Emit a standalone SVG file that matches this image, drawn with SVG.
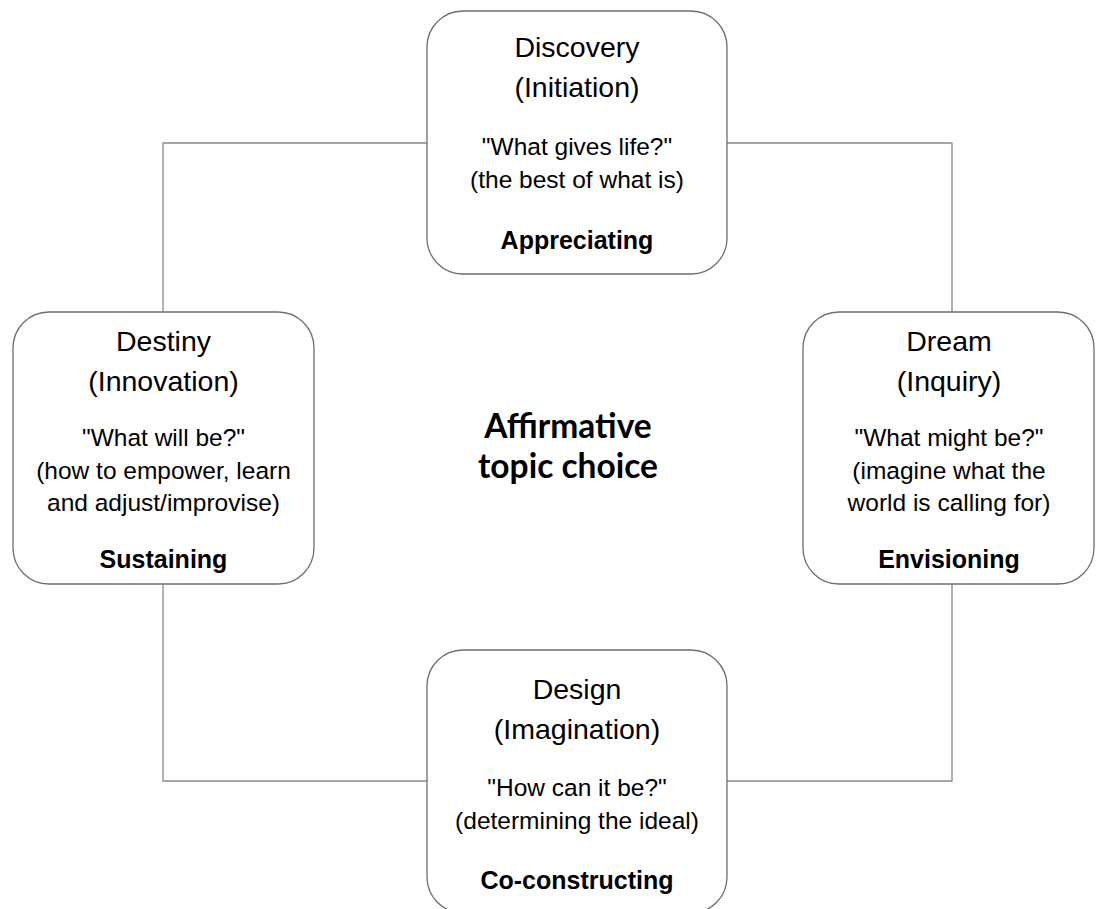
<svg xmlns="http://www.w3.org/2000/svg" width="1096" height="909" viewBox="0 0 1096 909">
<style>
.box{fill:#fff;stroke:#6e6e6e;stroke-width:1.3}
.con{fill:none;stroke:#8a8a8a;stroke-width:1.3}
.t{font-family:"Liberation Sans",Arial,sans-serif;fill:#000;text-anchor:middle}
.h{font-size:28.5px}
.b{font-size:24.5px}
.l{font-size:25px;font-weight:bold}
.c{font-family:Lato,"Open Sans",sans-serif;font-weight:bold;font-size:33.5px;text-anchor:middle;fill:#000}
</style>
<rect width="1096" height="909" fill="#fff"/>
<g id="connectors">
<polyline class="con" points="427,143 163,143 163,312"/>
<polyline class="con" points="727,143 952,143 952,312"/>
<polyline class="con" points="163,584 163,781 427,781"/>
<polyline class="con" points="952,584 952,781 727,781"/>
</g>
<g id="discovery">
<rect class="box" x="427" y="11" width="300" height="263" rx="36"/>
<text class="t h" x="577" y="57">Discovery</text>
<text class="t h" x="577" y="97">(Initiation)</text>
<text class="t b" x="577" y="155">"What gives life?"</text>
<text class="t b" x="577" y="188">(the best of what is)</text>
<text class="t l" x="577" y="249">Appreciating</text>
</g>
<g id="destiny">
<rect class="box" x="13" y="312" width="301" height="272" rx="36"/>
<text class="t h" x="163.5" y="351">Destiny</text>
<text class="t h" x="163.5" y="391">(Innovation)</text>
<text class="t b" x="163.5" y="446">"What will be?"</text>
<text class="t b" x="163.5" y="479">(how to empower, learn</text>
<text class="t b" x="163.5" y="511">and adjust/improvise)</text>
<text class="t l" x="163.5" y="568">Sustaining</text>
</g>
<g id="dream">
<rect class="box" x="803" y="312" width="291" height="272" rx="36"/>
<text class="t h" x="949" y="351">Dream</text>
<text class="t h" x="949" y="391">(Inquiry)</text>
<text class="t b" x="949" y="446">"What might be?"</text>
<text class="t b" x="949" y="479">(imagine what the</text>
<text class="t b" x="949" y="511">world is calling for)</text>
<text class="t l" x="949" y="568">Envisioning</text>
</g>
<g id="design">
<rect class="box" x="427" y="650" width="300" height="263" rx="36"/>
<text class="t h" x="577" y="699">Design</text>
<text class="t h" x="577" y="739">(Imagination)</text>
<text class="t b" x="577" y="796">"How can it be?"</text>
<text class="t b" x="577" y="829">(determining the ideal)</text>
<text class="t l" x="577" y="889">Co-constructing</text>
</g>
<g id="center">
<text class="c" x="568" y="438">Affirmative</text>
<text class="c" x="568" y="478">topic choice</text>
</g>
</svg>
